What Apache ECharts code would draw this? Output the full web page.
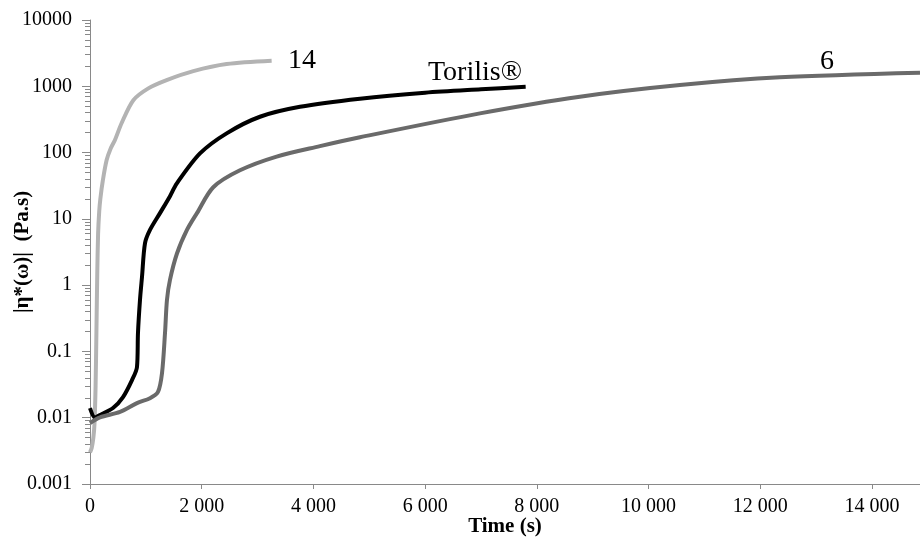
<!DOCTYPE html>
<html><head><meta charset="utf-8">
<script src="https://cdn.jsdelivr.net/npm/echarts@6/dist/echarts.min.js"></script>
<style>html,body{margin:0;padding:0;background:#fff}#c{width:920px;height:542px}</style>
</head><body><div id="c"></div>
<script>
// Time (s) and |η*(ω)| (Pa.s)
const t14 = [0, 30, 60, 80, 100, 115, 130, 145, 165, 185, 230, 298, 370, 447, 567, 776, 1044, 1372, 1850, 2446, 3252];
const v14 = [0.003, 0.0035, 0.005, 0.008, 0.03, 0.2, 1.5, 6, 13, 20, 38, 77, 115, 155, 279, 617, 930, 1241, 1694, 2163, 2427];
const tTor = [0, 90, 179, 412, 591, 752, 841, 859, 895, 931, 985, 1074, 1253, 1432, 1552, 1969, 2446, 3043, 3759, 4833, 6000, 7000, 7800];
const vTor = [0.014, 0.0101, 0.011, 0.014, 0.0205, 0.037, 0.058, 0.19, 0.6, 1.33, 4.3, 6.8, 12.2, 22, 34, 97, 195, 347, 490, 650, 800, 900, 980];
const t6 = [0, 179, 537, 841, 1074, 1217, 1289, 1343, 1378, 1432, 1557, 1736, 1915, 2207, 2685, 3341, 4117, 4833, 6981, 8771, 10561, 12351, 14860];
const v6 = [0.0083, 0.0101, 0.0122, 0.0166, 0.0197, 0.0245, 0.047, 0.19, 0.6, 1.2, 3.0, 6.8, 12.2, 30, 54, 87, 125, 170, 390, 695, 1042, 1363, 1600];
const xTicks = [0, 2000, 4000, 6000, 8000, 10000, 12000, 14000];
const yTicks = [0.001, 0.01, 0.1, 1, 10, 100, 1000, 10000];
const names = ['14', 'Torilis®', '6'];

const zip = (a, b) => a.map((x, i) => [x, b[i]]);
const minorLog = [];
for (let d = -3; d < 4; d++) for (let k = 2; k <= 9; k++) minorLog.push(d + Math.log10(k));

const serif = '"Liberation Serif", "Times New Roman", serif';
const axisGray = '#898989';
const chart = echarts.init(document.getElementById('c'), null, {renderer: 'canvas'});
const lbl = (text, coord) => ({
  symbol: 'circle', symbolSize: 1, silent: true, itemStyle: {opacity: 0},
  label: {show: true, position: 'inside', formatter: text, color: '#000', fontFamily: serif, fontSize: 28, opacity: 1},
  data: [{coord: coord, value: text}]
});
chart.setOption({
  animation: false,
  grid: {left: 90, right: 0, top: 20, bottom: 58, containLabel: false, outerBoundsMode: 'none'},
  xAxis: {
    type: 'value', min: 0, max: 14860,
    name: 'Time (s)', nameLocation: 'middle', nameGap: 32, nameMoveOverlap: false,
    nameTextStyle: {fontFamily: serif, fontWeight: 'bold', fontSize: 21, color: '#000'},
    axisLine: {show: true, onZero: false, lineStyle: {color: axisGray, width: 1}},
    axisTick: {show: true, customValues: xTicks, length: 5, lineStyle: {color: axisGray}},
    axisLabel: {customValues: xTicks, fontFamily: serif, fontSize: 20, color: '#000', margin: 13,
      formatter: v => String(v).replace(/\B(?=(\d{3})+(?!\d))/g, ' ')},
    splitLine: {show: false}
  },
  yAxis: [{
    type: 'log', logBase: 10, min: 0.001, max: 10000,
    name: '|η*(ω)|  (Pa.s)', nameLocation: 'middle', nameGap: 57, nameRotate: 90, nameMoveOverlap: false,
    nameTextStyle: {fontFamily: serif, fontWeight: 'bold', fontSize: 21, color: '#000'},
    axisLine: {show: true, onZero: false, lineStyle: {color: axisGray, width: 1}},
    axisTick: {show: true, length: 8, lineStyle: {color: axisGray}},
    axisLabel: {fontFamily: serif, fontSize: 20, color: '#000', margin: 18,
      formatter: v => { const i = yTicks.findIndex(t => Math.abs(t - v) / t < 1e-6); return i >= 0 ? String(yTicks[i]) : ''; }},
    splitLine: {show: false}
  }, {
    type: 'value', min: -3, max: 4, position: 'left',
    axisLine: {show: false, onZero: false},
    axisTick: {show: true, customValues: minorLog, length: 5, lineStyle: {color: axisGray}},
    axisLabel: {show: false},
    splitLine: {show: false}
  }],
  series: [
    {name: names[0], type: 'line', data: zip(t14, v14), showSymbol: false, smooth: 0.3,
      lineStyle: {color: '#b3b3b3', width: 4}, itemStyle: {color: '#b3b3b3'},
      markPoint: lbl(names[0], [3795, 2400])},
    {name: names[1], type: 'line', data: zip(tTor, vTor), showSymbol: false, smooth: 0.3,
      lineStyle: {color: '#000000', width: 4}, itemStyle: {color: '#000'},
      markPoint: lbl(names[1], [6892, 1580])},
    {name: names[2], type: 'line', data: zip(t6, v6), showSymbol: false, smooth: 0.3,
      lineStyle: {color: '#6a6a6a', width: 4}, itemStyle: {color: '#6a6a6a'},
      markPoint: lbl(names[2], [13194, 2320])}
  ]
});
</script></body></html>
